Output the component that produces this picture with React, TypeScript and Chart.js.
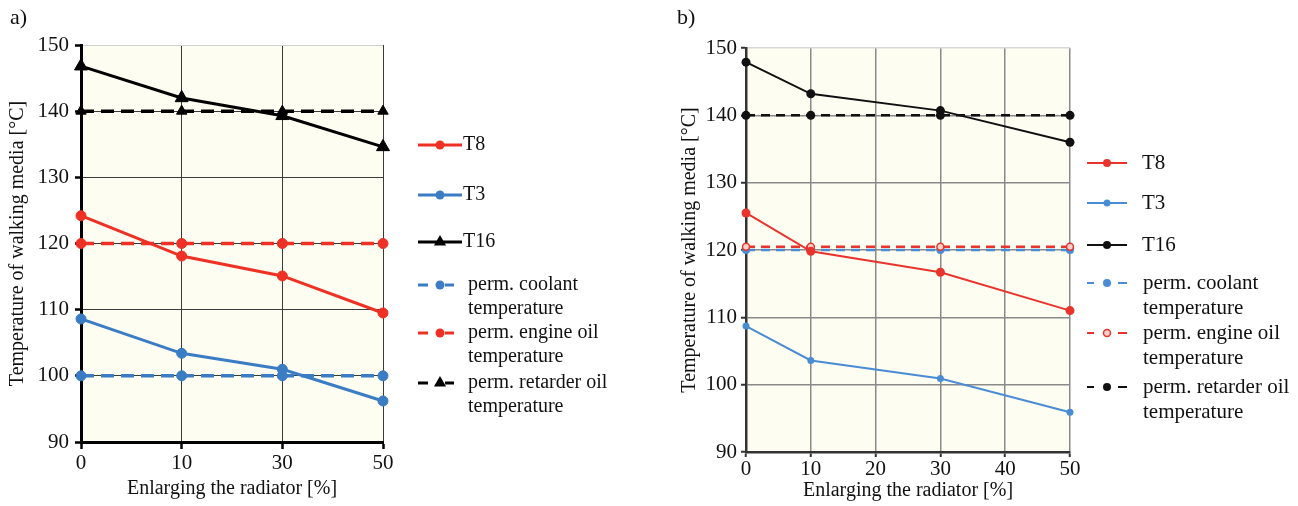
import React, { useEffect, useRef } from 'react';
import { Chart, registerables } from 'chart.js';
Chart.register(...registerables);

const FONT = '"Liberation Serif", "Times New Roman", serif';

// ---- Chart a) data ----
const catA = ['0', '10', '30', '50'];
const t8A = [124.2, 118.1, 115.1, 109.5];
const t3A = [108.6, 103.4, 101.0, 96.2];
const t16A = [146.8, 142.0, 139.3, 134.6];
const coolantA = [100, 100, 100, 100];
const oilA = [120, 120, 120, 120];
const retarderA = [140, 140, 140, 140];

// ---- Chart b) data ----
const xB = [0, 10, 30, 50];
const t8B = [125.5, 119.8, 116.7, 111.0];
const t3B = [108.7, 103.6, 100.9, 95.9];
const t16B = [147.9, 143.2, 140.7, 136.0];
const coolantB = [120, 120, 120, 120];
const oilB = [120.5, 120.5, 120.5, 120.5];
const retarderB = [140, 140, 140, 140];

const yMin = 90;
const yMax = 150;
const yStep = 10;
const xMinB = 0;
const xMaxB = 50;
const xStepB = 10;

const legendLabels = [
  ['T8'],
  ['T3'],
  ['T16'],
  ['perm. coolant', 'temperature'],
  ['perm. engine oil', 'temperature'],
  ['perm. retarder oil', 'temperature'],
];
const yTitle = 'Temperature of walking media [°C]';
const xTitle = 'Enlarging the radiator [%]';

function drawMarker(ctx: CanvasRenderingContext2D, style: string, x: number, y: number, r: number, color: string, open?: boolean, fill?: string) {
  ctx.beginPath();
  if (style === 'triangle') {
    const s = Math.sin(Math.PI / 3) * r;
    ctx.moveTo(x, y - r);
    ctx.lineTo(x - s, y + r / 2);
    ctx.lineTo(x + s, y + r / 2);
    ctx.closePath();
  } else {
    ctx.arc(x, y, r, 0, Math.PI * 2);
  }
  if (open) {
    ctx.fillStyle = fill || '#fff';
    ctx.fill();
    ctx.lineWidth = 1.5;
    ctx.strokeStyle = color;
    ctx.stroke();
  } else {
    ctx.fillStyle = color;
    ctx.fill();
  }
}

const bgPlugin = {
  id: 'plotBg',
  beforeDraw(chart: any) {
    const { ctx, chartArea } = chart;
    ctx.save();
    ctx.fillStyle = '#fefdf2';
    ctx.fillRect(chartArea.left, chartArea.top, chartArea.right - chartArea.left, chartArea.bottom - chartArea.top);
    ctx.restore();
  },
};

function makeLegend(L: any) {
  return {
    id: 'customLegend',
    afterDraw(chart: any) {
      const ctx: CanvasRenderingContext2D = chart.ctx;
      ctx.save();
      ctx.font = `${L.fontSize}px ${FONT}`;
      ctx.textBaseline = 'middle';
      ctx.textAlign = 'left';
      L.items.forEach((it: any, i: number) => {
        const y = L.rows[i];
        ctx.strokeStyle = it.color;
        ctx.lineWidth = L.lineWidth;
        ctx.setLineDash([]);
        ctx.beginPath();
        if (it.dashed) {
          for (const [a, b] of L.dashSegs) {
            ctx.moveTo(a, y);
            ctx.lineTo(b, y);
          }
        } else {
          ctx.moveTo(L.x0, y);
          ctx.lineTo(L.x1, y);
        }
        ctx.stroke();
        drawMarker(ctx, it.marker, L.markerX, y, it.radius, it.color, it.open, it.fill);
        ctx.fillStyle = '#111';
        it.text.forEach((t: string, k: number) => {
          ctx.fillText(t, it.dashed ? L.textX2 : L.textX1, y + k * L.lineGap);
        });
      });
      ctx.restore();
    },
  };
}

const RED_A = '#ee3124';
const BLUE_A = '#3b7dc4';
const BLACK = '#000000';
const RED_B = '#e8342c';
const BLUE_B = '#4a8cd4';
const BLACK_B = '#111111';

function ChartA() {
  const ref = useRef<HTMLCanvasElement>(null);
  useEffect(() => {
    const ds = (label: string, data: number[], color: string, dashed: boolean, style: string, r: number) => ({
      label,
      data,
      borderColor: color,
      backgroundColor: color,
      borderWidth: dashed ? 3.5 : 3,
      borderDash: dashed ? [13, 7] : [],
      pointStyle: style,
      pointRadius: r,
      pointBorderWidth: 1,
      pointBorderColor: color,
      pointBackgroundColor: color,
      clip: false as any,
      tension: 0,
    });
    const legend = makeLegend({
      fontSize: 20,
      lineWidth: 3,
      x0: 418,
      x1: 462,
      markerX: 440,
      dashSegs: [[418, 428], [445, 454]],
      textX1: 463,
      textX2: 468,
      lineGap: 24,
      rows: [145, 195, 242, 285, 333, 383],
      items: [
        { text: legendLabels[0], color: RED_A, marker: 'circle', radius: 4.5 },
        { text: legendLabels[1], color: BLUE_A, marker: 'circle', radius: 4.5 },
        { text: legendLabels[2], color: BLACK, marker: 'triangle', radius: 7 },
        { text: legendLabels[3], color: BLUE_A, marker: 'circle', radius: 4.5, dashed: true },
        { text: legendLabels[4], color: RED_A, marker: 'circle', radius: 4.5, dashed: true },
        { text: legendLabels[5], color: BLACK, marker: 'triangle', radius: 7, dashed: true },
      ],
    });
    const chart = new Chart(ref.current!, {
      type: 'line',
      data: {
        labels: catA,
        datasets: [
          ds('T16', t16A, BLACK, false, 'triangle', 7.5),
          ds('perm. retarder oil temperature', retarderA, BLACK, true, 'triangle', 6),
          ds('T8', t8A, RED_A, false, 'circle', 5),
          ds('perm. engine oil temperature', oilA, RED_A, true, 'circle', 5),
          ds('T3', t3A, BLUE_A, false, 'circle', 5),
          ds('perm. coolant temperature', coolantA, BLUE_A, true, 'circle', 5),
        ],
      },
      options: {
        responsive: false,
        animation: false,
        layout: { padding: { top: 45, right: 267, bottom: 0, left: 0 } },
        plugins: { legend: { display: false }, tooltip: { enabled: false } },
        scales: {
          x: {
            type: 'category',
            offset: false,
            grid: { offset: false, color: '#3a3a3a', lineWidth: 1, tickLength: 7, tickColor: '#000', tickWidth: 2.5 },
            border: { color: '#000', width: 3 },
            ticks: { color: '#111', font: { family: FONT, size: 21 }, padding: 2, maxRotation: 0, autoSkip: false },
            title: { display: true, text: xTitle, color: '#111', font: { family: FONT, size: 20 }, padding: { top: 0, bottom: 5 } },
            afterFit: (s: any) => { s.height = 64; },
          } as any,
          y: {
            min: yMin,
            max: yMax,
            grid: {
              color: (c: any) => (c.tick && c.tick.value === yMax ? '#cfcfcf' : '#3a3a3a'),
              lineWidth: 1,
              tickLength: 6,
              tickColor: '#000',
              tickWidth: 2.5,
            },
            border: { color: '#000', width: 3 },
            ticks: { stepSize: yStep, color: '#111', font: { family: FONT, size: 21 }, padding: 6 },
            title: { display: true, text: yTitle, color: '#111', font: { family: FONT, size: 20 }, padding: { top: 6, bottom: 0 } },
            afterFit: (s: any) => { s.width = 81; },
          } as any,
        },
      },
      plugins: [bgPlugin, legend],
    });
    return () => chart.destroy();
  }, []);
  return <canvas ref={ref} width={650} height={506} style={{ position: 'absolute', left: 0, top: 0, width: 650, height: 506 }} />;
}

function ChartB() {
  const ref = useRef<HTMLCanvasElement>(null);
  useEffect(() => {
    const pts = (ys: number[]) => xB.map((x, i) => ({ x, y: ys[i] }));
    const ds = (label: string, data: number[], color: string, dashed: boolean, r: number, open?: boolean) => ({
      label,
      data: pts(data),
      borderColor: color,
      backgroundColor: color,
      borderWidth: dashed ? 2.5 : 2,
      borderDash: dashed ? [9, 6] : [],
      pointStyle: 'circle',
      pointRadius: r,
      pointBorderWidth: open ? 1.5 : 0,
      pointBorderColor: color,
      pointBackgroundColor: open ? '#f8d2cd' : color,
      clip: false as any,
      tension: 0,
    });
    const legend = makeLegend({
      fontSize: 21,
      lineWidth: 2,
      x0: 427,
      x1: 467,
      markerX: 447,
      dashSegs: [[427, 434], [458, 467]],
      textX1: 482,
      textX2: 483,
      lineGap: 25,
      rows: [163, 203, 245, 283, 333, 387],
      items: [
        { text: legendLabels[0], color: RED_B, marker: 'circle', radius: 4 },
        { text: legendLabels[1], color: BLUE_B, marker: 'circle', radius: 3.5 },
        { text: legendLabels[2], color: BLACK_B, marker: 'circle', radius: 4 },
        { text: legendLabels[3], color: BLUE_B, marker: 'circle', radius: 4, dashed: true },
        { text: legendLabels[4], color: RED_B, marker: 'circle', radius: 3.5, dashed: true, open: true, fill: '#f8d2cd' },
        { text: legendLabels[5], color: BLACK_B, marker: 'circle', radius: 4, dashed: true },
      ],
    });
    const chart = new Chart(ref.current!, {
      type: 'line',
      data: {
        datasets: [
          ds('T16', t16B, BLACK_B, false, 4.5),
          ds('perm. retarder oil temperature', retarderB, BLACK_B, true, 4.5),
          ds('T8', t8B, RED_B, false, 4.5),
          ds('perm. engine oil temperature', oilB, RED_B, true, 3.5, true),
          ds('T3', t3B, BLUE_B, false, 3.5),
          ds('perm. coolant temperature', coolantB, BLUE_B, true, 4),
        ],
      },
      options: {
        responsive: false,
        animation: false,
        layout: { padding: { top: 48, right: 228, bottom: 0, left: 0 } },
        plugins: { legend: { display: false }, tooltip: { enabled: false } },
        scales: {
          x: {
            type: 'linear',
            min: xMinB,
            max: xMaxB,
            grid: { color: '#8a8a8a', lineWidth: 1.5, tickLength: 5, tickColor: '#333', tickWidth: 2 },
            border: { color: '#333', width: 2.5 },
            ticks: { stepSize: xStepB, color: '#111', font: { family: FONT, size: 21 }, padding: 0, maxRotation: 0 },
            title: { display: true, text: xTitle, color: '#111', font: { family: FONT, size: 20 }, padding: { top: 0, bottom: 3 } },
            afterFit: (s: any) => { s.height = 54; },
          } as any,
          y: {
            min: yMin,
            max: yMax,
            grid: {
              color: (c: any) => (c.tick && c.tick.value === yMax ? '#d8d8d8' : '#8a8a8a'),
              lineWidth: 1.5,
              tickLength: 5,
              tickColor: '#333',
              tickWidth: 2,
            },
            border: { color: '#333', width: 2.5 },
            ticks: { stepSize: yStep, color: '#111', font: { family: FONT, size: 21 }, padding: 4 },
            title: { display: true, text: yTitle, color: '#111', font: { family: FONT, size: 20 }, padding: { top: 18, bottom: 0 } },
            afterFit: (s: any) => { s.width = 86; },
          } as any,
        },
      },
      plugins: [bgPlugin, legend],
    });
    return () => chart.destroy();
  }, []);
  return <canvas ref={ref} width={638} height={506} style={{ position: 'absolute', left: 660, top: 0, width: 638, height: 506 }} />;
}

export default function App() {
  return (
    <div style={{ position: 'fixed', left: 0, top: 0, width: 1298, height: 506, background: '#fff', overflow: 'hidden' }}>
      <ChartA />
      <ChartB />
      <div style={{ position: 'absolute', left: 10, top: 4, fontFamily: FONT, fontSize: 22, color: '#111', lineHeight: '26px' }}>a)</div>
      <div style={{ position: 'absolute', left: 677, top: 4, fontFamily: FONT, fontSize: 22, color: '#111', lineHeight: '26px' }}>b)</div>
    </div>
  );
}
